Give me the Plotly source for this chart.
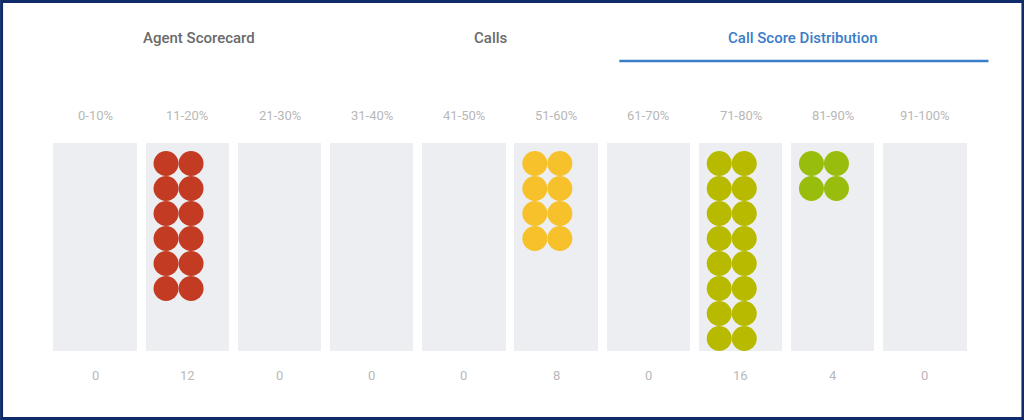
import plotly.graph_objects as go

# ---- data ----
bins = ["0-10%", "11-20%", "21-30%", "31-40%", "41-50%",
        "51-60%", "61-70%", "71-80%", "81-90%", "91-100%"]
counts = [0, 12, 0, 0, 0, 8, 0, 16, 4, 0]
dot_colors = ["#c23b22", "#c23b22", "#e06a2a", "#e98b2a", "#f0a82a",
              "#f6c12a", "#d8c414", "#b8ba00", "#98bd0c", "#6fae1f"]
tabs = ["Agent Scorecard", "Calls", "Call Score Distribution"]
active_tab = 2

# ---- layout geometry (pixels) ----
W, H = 1024, 420
first_center, last_center = 95.0, 924.5
pitch = (last_center - first_center) / (len(bins) - 1)
col_w = 83.5
plot_left = first_center - pitch / 2
plot_right = last_center + pitch / 2
plot_top, plot_bottom = 143.0, 351.0
plot_h = plot_bottom - plot_top
plot_w = plot_right - plot_left
dot_d = 25.0
pad = 8.0
per_row = 2

fig = go.Figure()

# background columns
fig.add_trace(go.Bar(
    x=list(range(len(bins))), y=[plot_h] * len(bins), base=0,
    width=col_w / pitch, marker=dict(color="#eceef1", line=dict(width=0)),
    hoverinfo="skip", showlegend=False))

# dots
for i, (n, c) in enumerate(zip(counts, dot_colors)):
    if n == 0:
        continue
    xs, ys = [], []
    for k in range(n):
        col, row = k % per_row, k // per_row
        off_px = -col_w / 2 + pad + dot_d / 2 + col * dot_d
        xs.append(i + off_px / pitch)
        ys.append(pad + dot_d / 2 + row * dot_d)
    fig.add_trace(go.Scatter(
        x=xs, y=ys, mode="markers",
        marker=dict(size=dot_d, color=c, line=dict(width=0)),
        hoverinfo="skip", showlegend=False))

def px_to_paper_x(px):
    return (px - plot_left) / plot_w

def py_to_paper_y(py):
    return (plot_bottom - py) / plot_h

annotations = []
for i, (b, n) in enumerate(zip(bins, counts)):
    annotations.append(dict(x=i, xref="x", y=py_to_paper_y(115), yref="paper",
                            text=b, showarrow=False, xanchor="center", yanchor="middle",
                            font=dict(family="Roboto", size=13, color="#b8b8b8")))
    annotations.append(dict(x=i, xref="x", y=py_to_paper_y(375), yref="paper",
                            text=str(n), showarrow=False, xanchor="center", yanchor="middle",
                            font=dict(family="Roboto", size=13, color="#b8b8b8")))

tab_centers_px = [198.5, 491, 803]
for j, (t, cx) in enumerate(zip(tabs, tab_centers_px)):
    annotations.append(dict(x=px_to_paper_x(cx), xref="paper",
                            y=py_to_paper_y(38), yref="paper",
                            text=t, showarrow=False, xanchor="center", yanchor="middle",
                            font=dict(family="Roboto", size=15, weight=500,
                                      color="#3a7cc8" if j == active_tab else "#6a6a6a")))

shapes = [
    # active tab underline
    dict(type="line", xref="paper", yref="paper",
         x0=px_to_paper_x(619), x1=px_to_paper_x(988),
         y0=py_to_paper_y(61), y1=py_to_paper_y(61),
         line=dict(color="#3a7cc8", width=2.5)),
    # outer frame
    dict(type="rect", xref="paper", yref="paper",
         x0=px_to_paper_x(1.5), x1=px_to_paper_x(W - 1.5),
         y0=py_to_paper_y(1.5), y1=py_to_paper_y(H - 1.5),
         line=dict(color="#102b6a", width=3), fillcolor="rgba(0,0,0,0)", layer="above"),
]

fig.update_layout(
    width=W, height=H,
    margin=dict(l=plot_left, r=W - plot_right, t=plot_top, b=H - plot_bottom, pad=0),
    paper_bgcolor="white", plot_bgcolor="white",
    xaxis=dict(range=[-0.5, len(bins) - 0.5], visible=False, fixedrange=True),
    yaxis=dict(range=[plot_h, 0], visible=False, fixedrange=True),
    annotations=annotations, shapes=shapes,
    bargap=0, showlegend=False,
)

fig.write_html("out.html", config={"displayModeBar": False})
